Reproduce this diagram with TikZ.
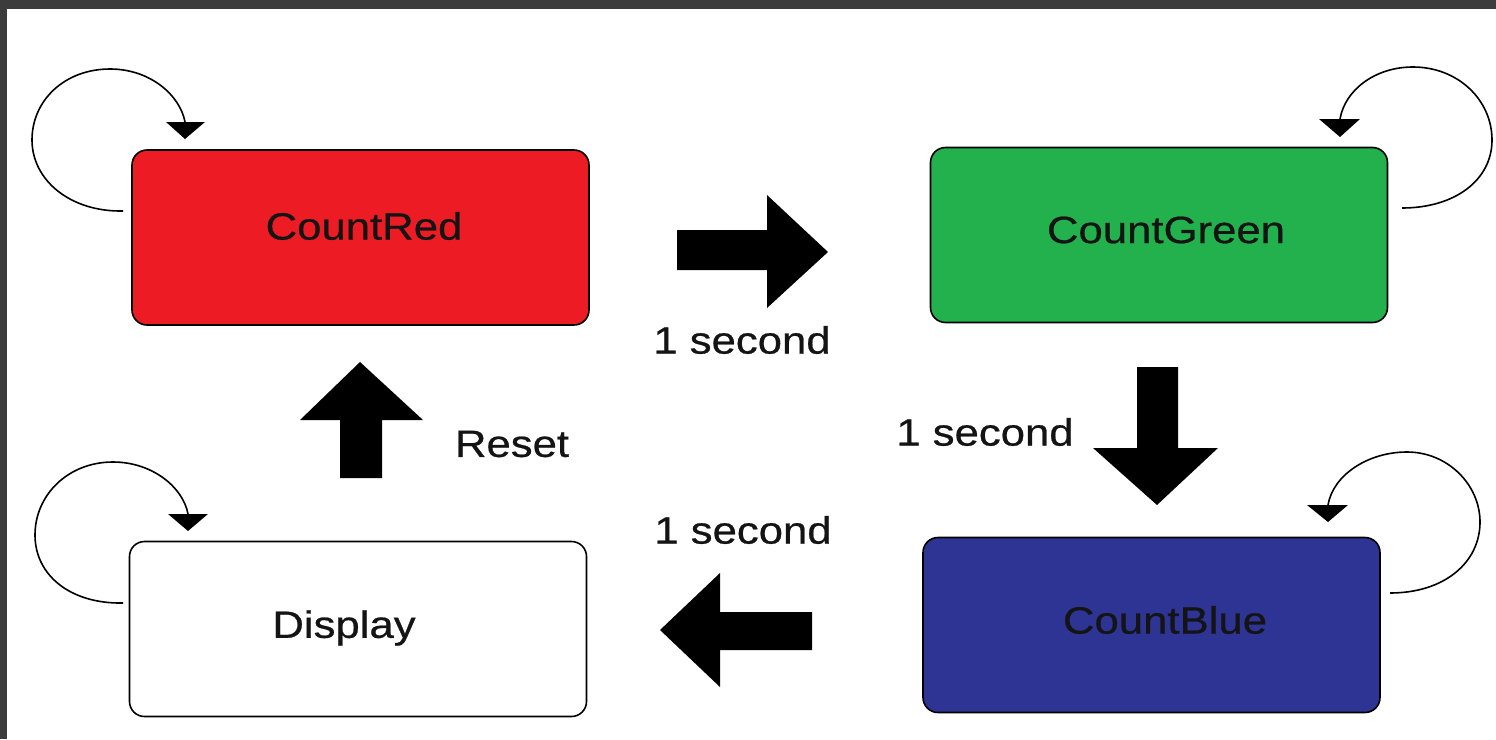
\documentclass[tikz,border=0pt]{standalone}
\usepackage{fontspec}
\setmainfont{Liberation Sans}[FakeStretch=1.15,FakeBold=0.6]
\definecolor{pred}{HTML}{ED1C24}
\definecolor{pgreen}{HTML}{22B14C}
\definecolor{pblue}{HTML}{2D3494}
\definecolor{frame}{HTML}{3C3C3C}
\definecolor{ink}{HTML}{141414}
\begin{document}
\begin{tikzpicture}[x=1pt,y=-1pt,
  state/.style={draw=black,line width=1.6pt,rounded corners=15pt,minimum width=457pt,minimum height=175pt,inner sep=0pt,font=\fontsize{38}{40}\selectfont,text=ink},
  lbl/.style={font=\fontsize{38}{40}\selectfont,text=ink,inner sep=0pt},
  loop/.style={draw=black,line width=1.6pt},
  tip/.style={fill=black},
  blockarrow/.style={fill=black}]
\useasboundingbox (0,0) rectangle (1496,739);
\fill[white] (0,0) rectangle (1496,739);
\fill[frame] (0,0) rectangle (1496,9);
\fill[frame] (0,0) rectangle (7,739);
% states
\node[state,fill=pred] (red) at (360.5,237.5) {};
\node[lbl] (redt) at (364,226) {CountRed};
\node[state,fill=pgreen] (green) at (1159,235) {};
\node[lbl] (greent) at (1166,230) {CountGreen};
\node[state,fill=pblue] (blue) at (1151.5,625) {};
\node[lbl] (bluet) at (1165,620) {CountBlue};
\node[state,fill=white] (disp) at (358,629) {};
\node[lbl] (dispt) at (344,628) {Display};
% labels
\node[lbl] (l1) at (742,340) {1 second};
\node[lbl] (l2) at (985,432) {1 second};
\node[lbl] (l3) at (743,530) {1 second};
\node[lbl] (l4) at (512,444) {Reset};
% block arrows
\fill[blockarrow] (677,230) -- (767,230) -- (767,195) -- (828,252) -- (767,308) -- (767,270) -- (677,270) -- cycle;
\fill[blockarrow] (1137,367) -- (1178,367) -- (1178,448) -- (1218,448) -- (1157,505) -- (1093,448) -- (1137,448) -- cycle;
\fill[blockarrow] (812,612) -- (720,612) -- (720,573) -- (660,630) -- (720,687) -- (720,650) -- (812,650) -- cycle;
\fill[blockarrow] (340,478) -- (340,420) -- (300,420) -- (360,362) -- (423,420) -- (382,420) -- (382,478) -- cycle;
% self loops
\coordinate (ra) at (123,211);
\coordinate (rb) at (185,122);
\draw[loop] (ra) .. controls (70,212) and (32,180) .. (32,140) .. controls (32,100) and (65,69) .. (110,69) .. controls (150,69) and (180,95) .. (rb);
\fill[tip] (166,122) -- (205,122) -- (185,139) -- cycle;
\coordinate (ga) at (1340,119);
\coordinate (gb) at (1402,208);
\draw[loop] (ga) .. controls (1345,90) and (1375,67) .. (1413,67) .. controls (1458,67) and (1492,100) .. (1492,140) .. controls (1492,180) and (1455,208) .. (gb);
\fill[tip] (1319,119) -- (1360,119) -- (1340,137) -- cycle;
\coordinate (ba) at (1328,505);
\coordinate (bb) at (1390,593);
\draw[loop] (ba) .. controls (1333,475) and (1368,452) .. (1407,452) .. controls (1448,452) and (1480,485) .. (1480,522) .. controls (1480,562) and (1445,593) .. (bb);
\fill[tip] (1307,505) -- (1348,505) -- (1328,522) -- cycle;
\coordinate (da) at (123,603);
\coordinate (db) at (188,514);
\draw[loop] (da) .. controls (70,604) and (35,575) .. (35,535) .. controls (35,495) and (68,462) .. (113,462) .. controls (152,462) and (183,487) .. (db);
\fill[tip] (168,514) -- (208,514) -- (188,531) -- cycle;
\end{tikzpicture}
\end{document}
